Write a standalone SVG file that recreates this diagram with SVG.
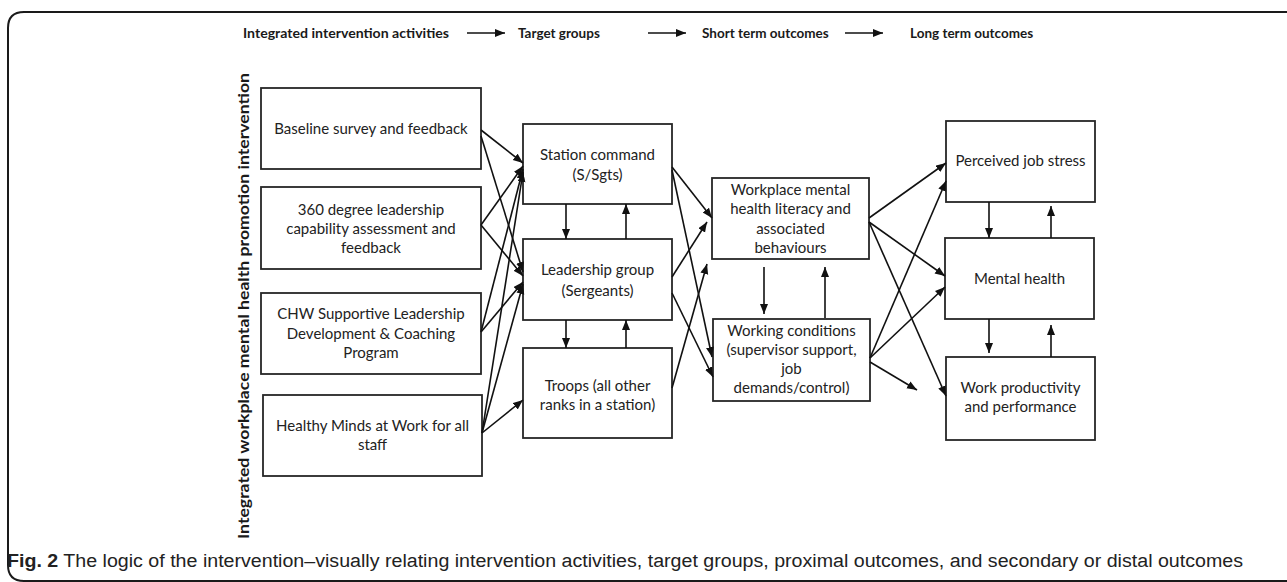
<svg xmlns="http://www.w3.org/2000/svg" width="1287" height="582" viewBox="0 0 1287 582">
<defs>
<style>
.frame{fill:none;stroke:#1a1a1a;stroke-width:2}
.box{fill:#fff;stroke:#262626;stroke-width:1.8}
.t{font-family:Lato,"Liberation Sans",sans-serif;font-size:15px;fill:#222;text-anchor:middle}
.h{font-family:Lato,"Liberation Sans",sans-serif;font-size:13.5px;font-weight:bold;fill:#1a1a1a}
.v{font-family:Lato,"Liberation Sans",sans-serif;font-size:15.5px;font-weight:bold;fill:#1a1a1a}
.cap{font-family:"Liberation Sans",Arial,sans-serif;font-size:18px;fill:#222}
.c{fill:none;stroke:#111;stroke-width:1.6;marker-end:url(#ah)}
</style>
<marker id="ah" markerUnits="userSpaceOnUse" markerWidth="11" markerHeight="9" refX="10" refY="4" orient="auto">
<path d="M0,0 L10,4 L0,8 z" fill="#111"/>
</marker>
</defs>
<rect width="1287" height="582" fill="#fff"/>
<path class="frame" d="M1287,12 H24 Q8,12 8,28 V565 Q8,581 24,581 H1287"/>

<g id="header">
<text class="h" x="243" y="38" textLength="206" lengthAdjust="spacingAndGlyphs">Integrated intervention activities</text>
<text class="h" x="518" y="38">Target groups</text>
<text class="h" x="702" y="38">Short term outcomes</text>
<text class="h" x="910" y="38">Long term outcomes</text>
</g>

<g id="side-label">
<text class="v" transform="translate(249,306) rotate(-90)" text-anchor="middle" textLength="466" lengthAdjust="spacingAndGlyphs">Integrated workplace mental health promotion intervention</text>
</g>

<g id="baseline">
<rect class="box" x="261" y="88" width="220" height="81"/>
<text class="t" x="371" y="134">Baseline survey and feedback</text>
</g>
<g id="leadership-360">
<rect class="box" x="261" y="187" width="220" height="82"/>
<text class="t" x="371" y="215">360 degree leadership</text>
<text class="t" x="371" y="234">capability assessment and</text>
<text class="t" x="371" y="253">feedback</text>
</g>
<g id="chw">
<rect class="box" x="261" y="293" width="220" height="81"/>
<text class="t" x="371" y="319">CHW Supportive Leadership</text>
<text class="t" x="371" y="338.5">Development &amp; Coaching</text>
<text class="t" x="371" y="358">Program</text>
</g>
<g id="healthy-minds">
<rect class="box" x="263" y="395" width="219" height="81"/>
<text class="t" x="372.5" y="431">Healthy Minds at Work for all</text>
<text class="t" x="372.5" y="450">staff</text>
</g>

<g id="station">
<rect class="box" x="523" y="124" width="149" height="80"/>
<text class="t" x="597.5" y="159.5">Station command</text>
<text class="t" x="597.5" y="179.5">(S/Sgts)</text>
</g>
<g id="leadership-group">
<rect class="box" x="523" y="239" width="149" height="81"/>
<text class="t" x="597.5" y="275">Leadership group</text>
<text class="t" x="597.5" y="295.5">(Sergeants)</text>
</g>
<g id="troops">
<rect class="box" x="523" y="348" width="149" height="90"/>
<text class="t" x="597.5" y="390.5">Troops (all other</text>
<text class="t" x="597.5" y="410">ranks in a station)</text>
</g>

<g id="literacy">
<rect class="box" x="712" y="178" width="157" height="81"/>
<text class="t" x="790.5" y="195">Workplace mental</text>
<text class="t" x="790.5" y="214">health literacy and</text>
<text class="t" x="790.5" y="233.5">associated</text>
<text class="t" x="790.5" y="252.5">behaviours</text>
</g>
<g id="working-conditions">
<rect class="box" x="713" y="319" width="157" height="82"/>
<text class="t" x="791.5" y="336">Working conditions</text>
<text class="t" x="791.5" y="355">(supervisor support,</text>
<text class="t" x="791.5" y="374">job</text>
<text class="t" x="791.5" y="393">demands/control)</text>
</g>

<g id="job-stress">
<rect class="box" x="946" y="121" width="149" height="81"/>
<text class="t" x="1020.5" y="166">Perceived job stress</text>
</g>
<g id="mental-health">
<rect class="box" x="945" y="238" width="149" height="81"/>
<text class="t" x="1019.5" y="283.5">Mental health</text>
</g>
<g id="productivity">
<rect class="box" x="946" y="357" width="149" height="83"/>
<text class="t" x="1020.5" y="393">Work productivity</text>
<text class="t" x="1020.5" y="412">and performance</text>
</g>

<g id="connectors">
<path class="c" d="M467,33 L505,33"/>
<path class="c" d="M648,33 L686,33"/>
<path class="c" d="M845,33 L883,33"/>

<path class="c" d="M481,130 L523,163"/>
<path class="c" d="M481,136 L523,272"/>
<path class="c" d="M481,225 L523,166"/>
<path class="c" d="M481,225 L523,276"/>
<path class="c" d="M481,332 L523,169"/>
<path class="c" d="M481,332 L523,282"/>
<path class="c" d="M482,433 L523,172"/>
<path class="c" d="M482,433 L523,284"/>
<path class="c" d="M482,433 L523,400"/>

<path class="c" d="M566,204 L566,239"/>
<path class="c" d="M626,239 L626,204"/>
<path class="c" d="M566,320 L566,348"/>
<path class="c" d="M626,348 L626,320"/>

<path class="c" d="M672,167 L712,218"/>
<path class="c" d="M672,170 L712,357"/>
<path class="c" d="M672,277 L707,222"/>
<path class="c" d="M672,293 L713,377"/>
<path class="c" d="M672,388 L707,264"/>

<path class="c" d="M764,267 L764,314"/>
<path class="c" d="M825,318 L825,267"/>

<path class="c" d="M869,218 L946,163"/>
<path class="c" d="M869,222 L945,276"/>
<path class="c" d="M869,222 L946,396"/>
<path class="c" d="M870,358 L946,181"/>
<path class="c" d="M870,358 L945,287"/>
<path class="c" d="M870,362 L917,390"/>

<path class="c" d="M989,202 L989,238"/>
<path class="c" d="M1051,238 L1051,206"/>
<path class="c" d="M989,319 L989,353"/>
<path class="c" d="M1051,357 L1051,325"/>
</g>

<g id="caption">
<text class="cap" x="7" y="567" textLength="1236" lengthAdjust="spacingAndGlyphs"><tspan font-weight="bold">Fig. 2</tspan> The logic of the intervention–visually relating intervention activities, target groups, proximal outcomes, and secondary or distal outcomes</text>
</g>
</svg>
